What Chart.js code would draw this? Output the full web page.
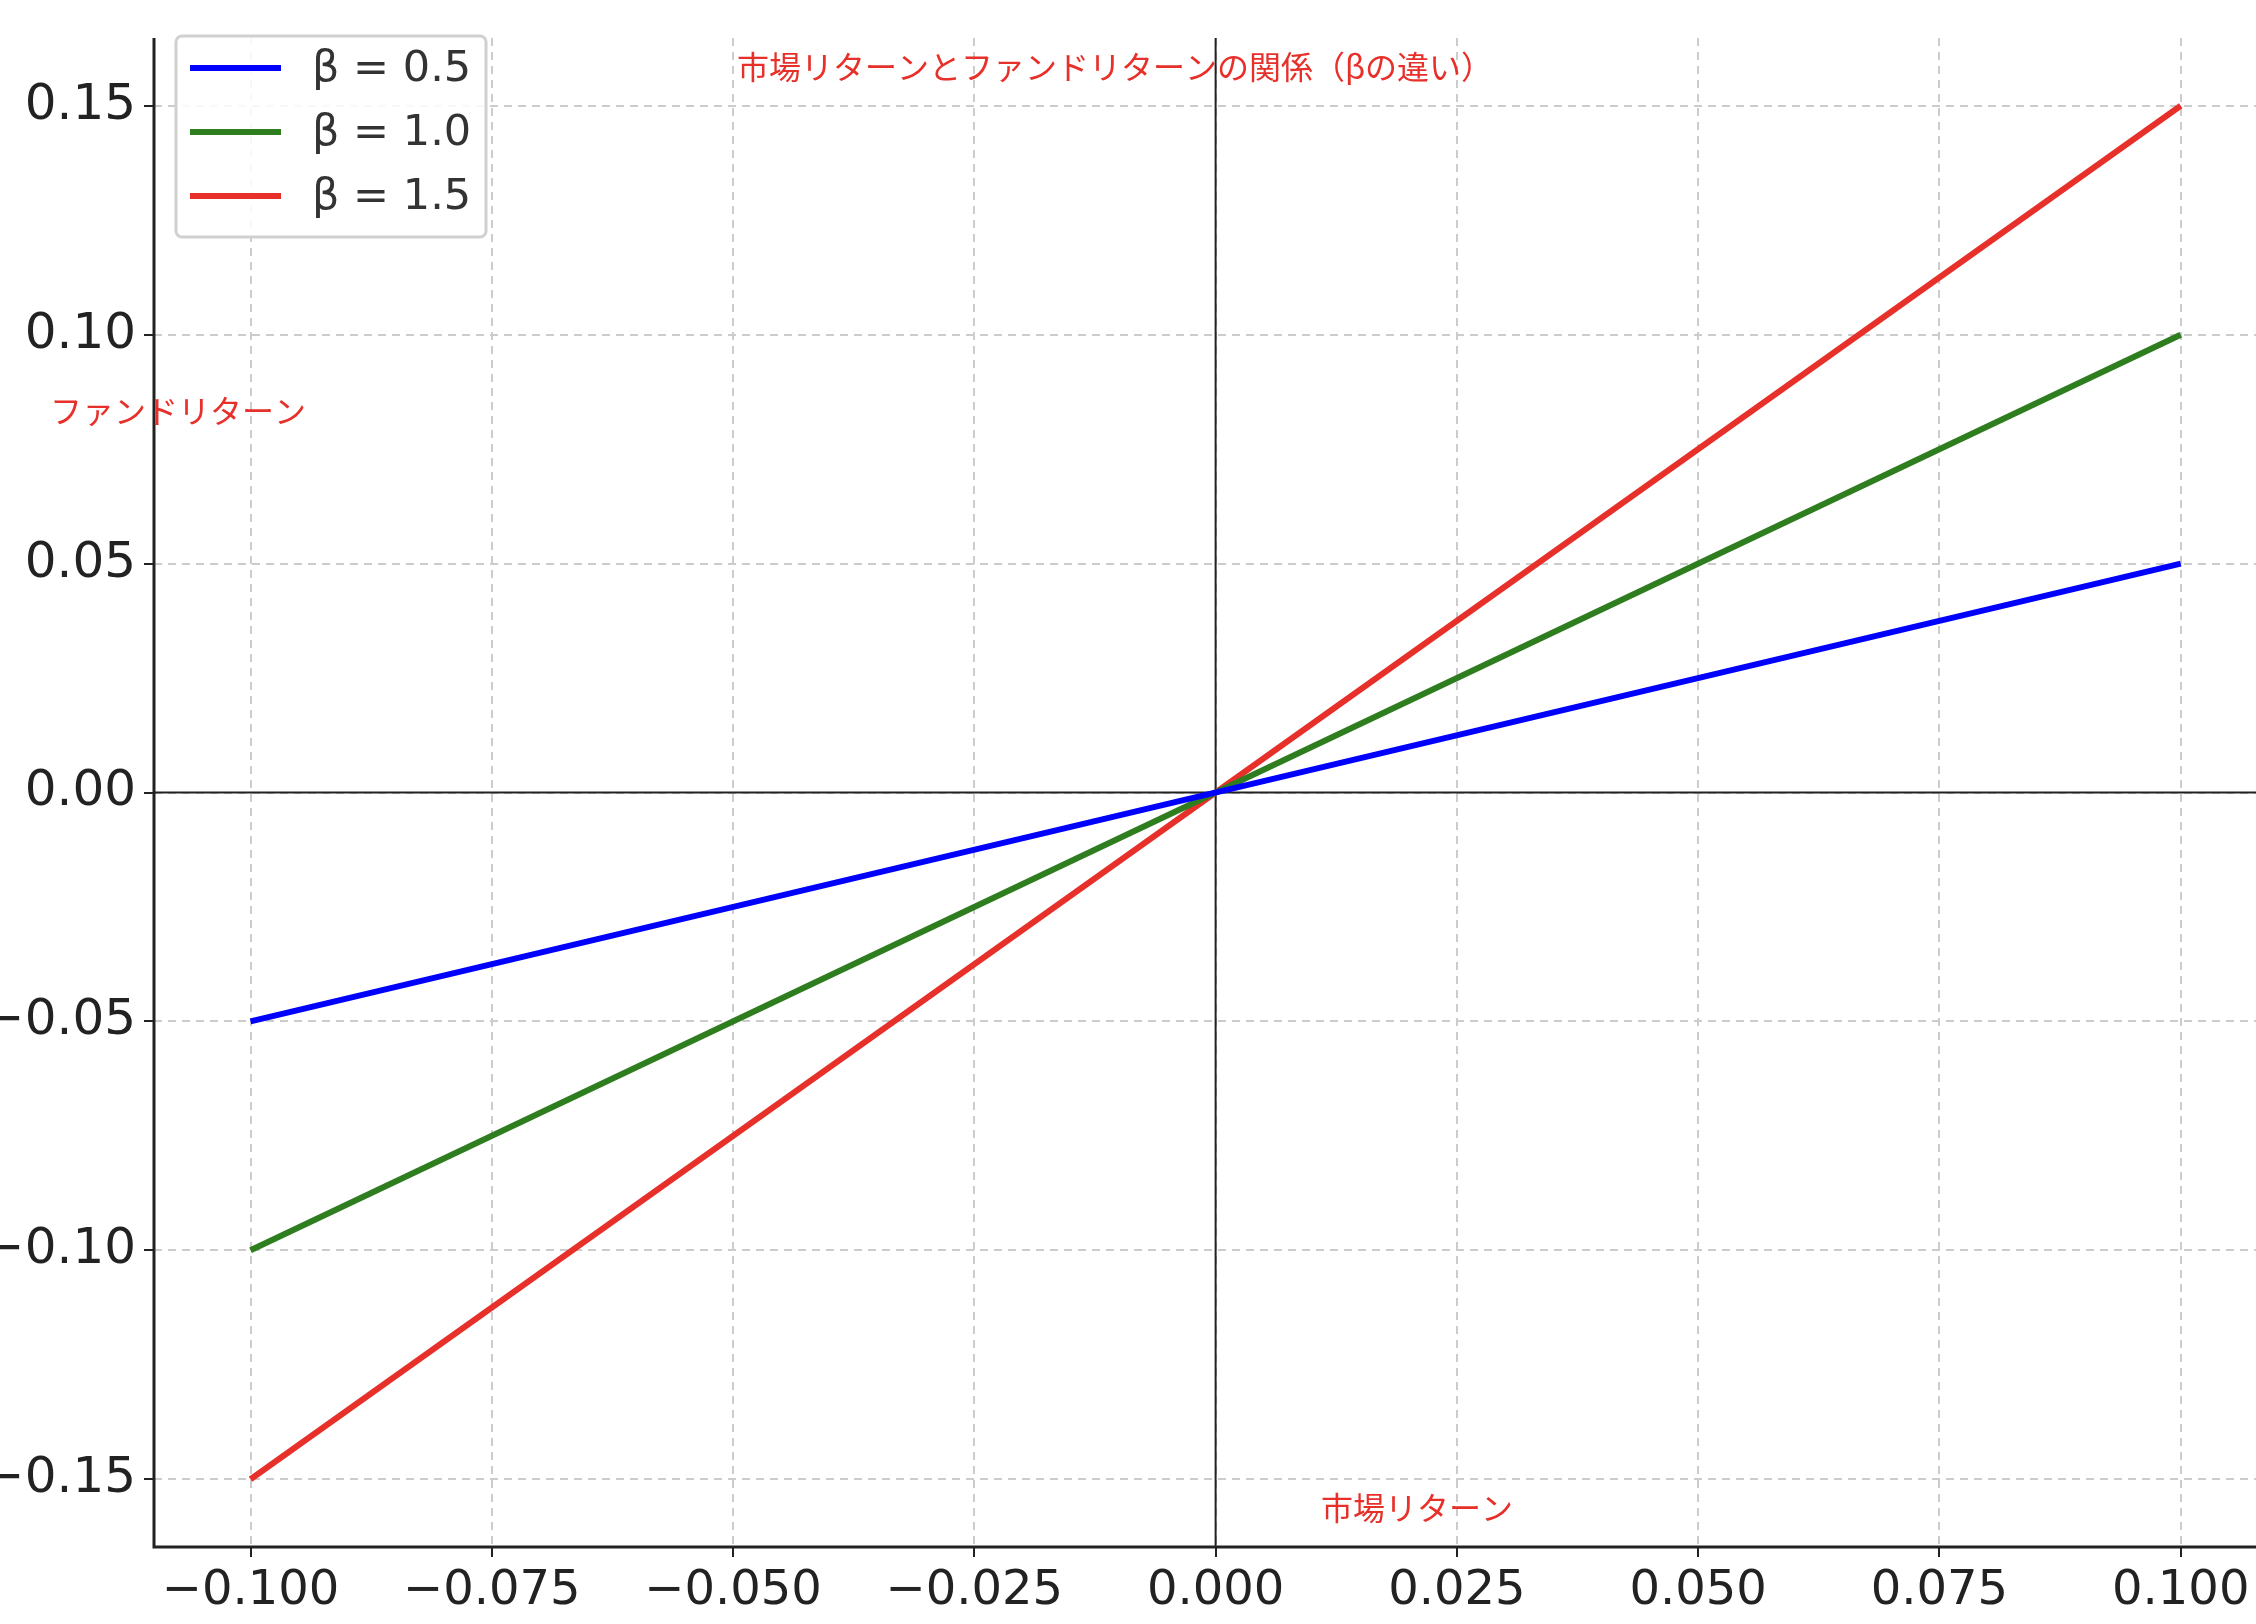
<!DOCTYPE html>
<html><head><meta charset="utf-8">
<script src="https://cdn.jsdelivr.net/npm/chart.js@4"></script>
<style>html,body{margin:0;padding:0;background:#fff}#c{display:block}</style>
</head><body>
<canvas id="c" width="2256" height="1624" style="width:2256px;height:1624px"></canvas>
<script>
const marketX = [-0.1, 0.1];
const betas = [0.5, 1.0, 1.5];
const seriesLabels = ['β = 0.5', 'β = 1.0', 'β = 1.5'];
const seriesColors = ['#0000ff', '#2e7d1f', '#e8302a'];
const fund05 = [-0.05, 0.05];
const fund10 = [-0.10, 0.10];
const fund15 = [-0.15, 0.15];
const seriesValues = [fund05, fund10, fund15];
const xTicks = [-0.1, -0.075, -0.05, -0.025, 0, 0.025, 0.05, 0.075, 0.1];
const yTicks = [-0.15, -0.10, -0.05, 0, 0.05, 0.10, 0.15];
const titleText = '市場リターンとファンドリターンの関係（βの違い）';
const xLabel = '市場リターン';
const yLabel = 'ファンドリターン';
const FONT = '"DejaVu Sans", sans-serif';
const JFONT = '"Noto Sans CJK JP", sans-serif';

const datasets = seriesValues.map((vals, i) => ({
  label: seriesLabels[i],
  data: marketX.map((x, j) => ({x, y: vals[j]})),
  borderColor: seriesColors[i], backgroundColor: seriesColors[i],
  borderWidth: 6, pointRadius: 0, showLine: true, fill: false
}));

const extras = {
  id: 'extras',
  beforeDatasetsDraw(chart) {
    const {ctx, chartArea: a, scales: {x, y}} = chart;
    ctx.save();
    ctx.strokeStyle = '#222'; ctx.lineWidth = 2;
    const x0 = x.getPixelForValue(0), y0 = y.getPixelForValue(0);
    ctx.beginPath(); ctx.moveTo(x0, a.top); ctx.lineTo(x0, a.bottom);
    ctx.moveTo(a.left, y0); ctx.lineTo(a.right, y0); ctx.stroke();
    ctx.restore();
  },
  afterDraw(chart) {
    const {ctx, chartArea: a} = chart;
    ctx.save();
    ctx.fillStyle = '#e8302a'; ctx.font = '32px ' + JFONT; ctx.textBaseline = 'middle';
    ctx.textAlign = 'center';
    ctx.fillText(titleText, 1115, 67);
    ctx.fillText(xLabel, 1417, 1508);
    ctx.textAlign = 'left';
    ctx.fillText(yLabel, 50, 411);
    ctx.fillStyle = 'rgba(255,255,255,0.85)'; ctx.strokeStyle = '#d0d0d0'; ctx.lineWidth = 3;
    ctx.beginPath(); ctx.roundRect(176, 36, 310, 201, 6); ctx.fill(); ctx.stroke();
    ctx.font = '43px ' + FONT; ctx.fillStyle = '#333';
    seriesLabels.forEach((l, i) => {
      const yy = 68 + i * 64;
      ctx.strokeStyle = seriesColors[i]; ctx.lineWidth = 6;
      ctx.beginPath(); ctx.moveTo(190, yy); ctx.lineTo(281, yy); ctx.stroke();
      ctx.fillText(l, 312, yy + 2);
    });
    ctx.strokeStyle = '#222'; ctx.lineWidth = 3;
    ctx.beginPath(); ctx.moveTo(a.left, a.top); ctx.lineTo(a.left, a.bottom); ctx.lineTo(a.right, a.bottom); ctx.stroke();
    ctx.restore();
  }
};

const fmt = (v, d) => (v < 0 ? '−' : '') + Math.abs(v).toFixed(d);

new Chart(document.getElementById('c'), {
  type: 'scatter',
  data: {datasets},
  options: {
    responsive: false, animation: false, devicePixelRatio: 1,
    layout: {padding: {top: -14, right: 0, left: 0, bottom: 0}},
    plugins: {legend: {display: false}, tooltip: {enabled: false}},
    scales: {
      x: {
        type: 'linear', min: -0.11, max: 0.1078,
        afterFit(s) { s.height = 77; },
        afterBuildTicks(s) { s.ticks = xTicks.map(v => ({value: v})); },
        ticks: {font: {family: FONT, size: 48}, color: '#222', padding: 6, maxRotation: 0, autoSkip: false,
          callback: v => fmt(v, 3)},
        grid: {color: '#cccccc', lineWidth: 2, tickColor: '#222', tickLength: 10, tickWidth: 2},
        border: {display: false, dash: [8, 6]}
      },
      y: {
        type: 'linear', min: -0.1648, max: 0.1648,
        afterFit(s) { s.width = 154; },
        afterBuildTicks(s) { s.ticks = yTicks.map(v => ({value: v})); },
        ticks: {font: {family: FONT, size: 50}, color: '#222', padding: 8, autoSkip: false,
          callback: v => fmt(v, 2)},
        grid: {color: '#cccccc', lineWidth: 2, tickColor: '#222', tickLength: 10, tickWidth: 2},
        border: {display: false, dash: [8, 6]}
      }
    }
  },
  plugins: [extras]
});
</script>
</body></html>
